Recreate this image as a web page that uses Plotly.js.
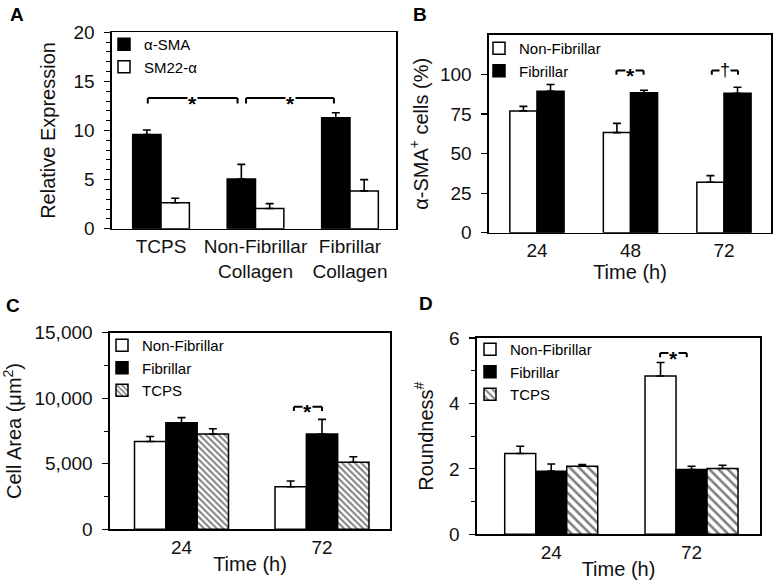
<!DOCTYPE html>
<html><head><meta charset="utf-8">
<script src="https://cdn.plot.ly/plotly-3.0.1.min.js"></script>
<style>html,body{margin:0;padding:0;background:#fff}#chart{width:781px;height:588px}</style>
</head><body><div id="chart"></div>
<script>
// ---------- Panel A ----------
const catsA = ['TCPS', 'Non-Fibrillar<br>Collagen', 'Fibrillar<br>Collagen'];
const smaA = [9.6, 5.05, 11.3];
const smaErrA = [0.45, 1.5, 0.5];
const sm22A = [2.65, 2.05, 3.85];
const sm22ErrA = [0.45, 0.5, 1.15];
const sigA = [{x0: -0.14, x1: 0.81, y: 13.3, label: '*'}, {x0: 0.9, x1: 1.83, y: 13.3, label: '*'}];
// ---------- Panel B ----------
const timesB = ['24', '48', '72'];
const nfB = [77, 63.3, 31.9];
const nfErrB = [2.9, 5.8, 4.2];
const fB = [89.5, 88.5, 88.2];
const fErrB = [4.2, 1.6, 3.8];
const sigB = [{x0: 0.85, x1: 1.14, y: 102.5, label: '*'}, {x0: 1.87, x1: 2.15, y: 102.5, label: '†'}];
// ---------- Panel C ----------
const timesCD = ['24', '72'];
const nfC = [6700, 3250];
const nfErrC = [380, 430];
const fC = [8130, 7270];
const fErrC = [390, 1120];
const tcpsC = [7270, 5110];
const tcpsErrC = [400, 430];
const sigC = [{x0: 0.80, x1: 1.0, y: 9350, label: '*'}];
// ---------- Panel D ----------
const nfD = [2.47, 4.84];
const nfErrD = [0.22, 0.41];
const fD = [1.93, 1.98];
const fErrD = [0.22, 0.1];
const tcpsD = [2.08, 2.01];
const tcpsErrD = [0.05, 0.1];
const sigD = [{x0: 0.776, x1: 0.966, y: 5.54, label: '*'}];

const FONT = 'Liberation Sans, Arial, Helvetica, sans-serif';
const W = 781, H = 588;
const px = v => v / W;
const py = v => 1 - v / H;

function err(arr) {
  return {type: 'data', symmetric: false, array: arr, arrayminus: arr.map(() => 0),
          color: '#000', thickness: 1.6, width: 4};
}
function bar(x, y, e, name, fill, offset, width, xa, ya, legend, pattern) {
  const m = {color: fill, line: {color: '#000', width: 1.5}};
  if (pattern) m.pattern = pattern;
  return {type: 'bar', x: x, y: y, name: name, marker: m, error_y: err(e),
          offset: offset, width: width, xaxis: xa, yaxis: ya, legend: legend,
          hoverinfo: 'x+y+name'};
}
const hatchC = {shape: '\\', size: 4.5, solidity: 0.45, fgcolor: '#000', bgcolor: '#fff', fillmode: 'overlay'};
const hatchD = {shape: '\\', size: 6.5, solidity: 0.4, fgcolor: '#000', bgcolor: '#fff', fillmode: 'overlay'};

const wA = 0.30, wB = 0.29, wC = 0.223, wD = 0.221;
const data = [
  bar(catsA, smaA, smaErrA, 'α-SMA', '#000', -wA, wA, 'x', 'y', 'legend'),
  bar(catsA, sm22A, sm22ErrA, 'SM22-α', '#fff', 0, wA, 'x', 'y', 'legend'),
  bar(timesB, nfB, nfErrB, 'Non-Fibrillar', '#fff', -wB, wB, 'x2', 'y2', 'legend2'),
  bar(timesB, fB, fErrB, 'Fibrillar', '#000', 0, wB, 'x2', 'y2', 'legend2'),
  bar(timesCD, nfC, nfErrC, 'Non-Fibrillar', '#fff', -1.5 * wC, wC, 'x3', 'y3', 'legend3'),
  bar(timesCD, fC, fErrC, 'Fibrillar', '#000', -0.5 * wC, wC, 'x3', 'y3', 'legend3'),
  bar(timesCD, tcpsC, tcpsErrC, 'TCPS', '#fff', 0.5 * wC, wC, 'x3', 'y3', 'legend3', hatchC),
  bar(timesCD, nfD, nfErrD, 'Non-Fibrillar', '#fff', -1.5 * wD, wD, 'x4', 'y4', 'legend4'),
  bar(timesCD, fD, fErrD, 'Fibrillar', '#000', -0.5 * wD, wD, 'x4', 'y4', 'legend4'),
  bar(timesCD, tcpsD, tcpsErrD, 'TCPS', '#fff', 0.5 * wD, wD, 'x4', 'y4', 'legend4', hatchD)
];

const tickFont = {family: FONT, size: 19, color: '#111'};
const titleFont = {family: FONT, size: 20, color: '#111'};
function xax(domain, anchor, range, title, st) {
  const a = {domain: domain, anchor: anchor, type: 'category', range: range,
    showline: true, mirror: true, linecolor: '#000', linewidth: 1.6,
    ticks: '', showgrid: false, zeroline: false, tickfont: tickFont,
    ticklabelstandoff: 0, fixedrange: true};
  if (title) a.title = {text: title, font: titleFont, standoff: st};
  return a;
}
function yax(domain, anchor, range, opts, title, standoff) {
  return Object.assign({domain: domain, anchor: anchor, range: range,
    showline: true, mirror: true, linecolor: '#000', linewidth: 1.6,
    ticks: 'outside', ticklen: 6, tickwidth: 1.2, tickcolor: '#000',
    showgrid: false, zeroline: false, tickfont: tickFont, ticklabelstandoff: 6,
    title: {text: title, font: titleFont, standoff: standoff}, fixedrange: true}, opts);
}
const minorOpt = d => ({dtick: d, ticks: 'outside', ticklen: 4, tickwidth: 1, tickcolor: '#000', showgrid: false});

const shapes = [];
const annotations = [];
function addSig(list, xa, ya, drop) {
  list.forEach(s => {
    const ln = {type: 'line', xref: xa, yref: ya, line: {color: '#000', width: 2}};
    shapes.push(Object.assign({x0: s.x0, x1: s.x0, y0: s.y - drop, y1: s.y}, ln));
    shapes.push(Object.assign({x0: s.x0, x1: s.x1, y0: s.y, y1: s.y}, ln));
    shapes.push(Object.assign({x0: s.x1, x1: s.x1, y0: s.y - drop, y1: s.y}, ln));
    const isStar = s.label === '*';
    annotations.push({xref: xa, yref: ya, x: (s.x0 + s.x1) / 2, y: s.y,
      text: isStar ? '<b>*</b>' : s.label, showarrow: false, xanchor: 'center', yanchor: 'middle',
      yshift: isStar ? -5 : 1, bgcolor: '#fff', borderpad: 0,
      font: {family: FONT, size: isStar ? 21 : 18, color: '#000'}});
  });
}
addSig(sigA, 'x', 'y', 0.55);
addSig(sigB, 'x2', 'y2', 2.6);
addSig(sigC, 'x3', 'y3', 320);
addSig(sigD, 'x4', 'y4', 0.13);

[['A', 17, 15], ['B', 420, 15], ['C', 13, 305], ['D', 426, 303]].forEach(p => {
  annotations.push({xref: 'paper', yref: 'paper', x: px(p[1]), y: py(p[2]), text: '<b>' + p[0] + '</b>',
    showarrow: false, xanchor: 'center', yanchor: 'middle', font: {family: FONT, size: 19, color: '#000'}});
});

function leg(x, y) {
  return {x: px(x), y: py(y), xanchor: 'left', yanchor: 'top', bgcolor: 'rgba(0,0,0,0)',
    borderwidth: 0, traceorder: 'normal', tracegroupgap: 0, itemclick: false, itemdoubleclick: false,
    font: {family: FONT, size: 15, color: '#000'}};
}

const layout = {
  width: W, height: H, margin: {l: 0, r: 0, t: 0, b: 0},
  paper_bgcolor: '#fff', plot_bgcolor: '#fff', font: {family: FONT, color: '#000'},
  barmode: 'overlay', showlegend: true,
  xaxis: xax([px(112), px(396)], 'y', [-0.519, 2.487]),
  yaxis: yax([py(228.7), py(32.3)], 'x', [0, 20], {dtick: 5, minor: minorOpt(1)}, 'Relative Expression', 12),
  xaxis2: xax([px(489), px(771)], 'y2', [-0.513, 2.503], 'Time (h)', 3),
  yaxis2: yax([py(232.7), py(35)], 'x2', [0, 125], {tickvals: [0, 25, 50, 75, 100]}, 'α-SMA<sup>+</sup> cells (%)', 6),
  xaxis3: xax([px(110), px(390)], 'y3', [-0.509, 1.484], 'Time (h)', 0),
  yaxis3: yax([py(529.3), py(332.7)], 'x3', [0, 15000], {dtick: 5000, tickformat: ',d', minor: minorOpt(2500)}, 'Cell Area (μm<sup>2</sup>)', 8),
  xaxis4: xax([px(477), px(760)], 'y4', [-0.529, 1.488], 'Time (h)', 0),
  yaxis4: yax([py(534.3), py(338)], 'x4', [0, 6], {dtick: 2, minor: minorOpt(1)}, 'Roundness<sup>#</sup>', 10),
  legend: leg(104, 28),
  legend2: leg(479, 32),
  legend3: leg(102, 329),
  legend4: leg(470, 333),
  shapes: shapes,
  annotations: annotations
};

Plotly.newPlot('chart', data, layout, {displayModeBar: false, staticPlot: true});
</script>
</body></html>
